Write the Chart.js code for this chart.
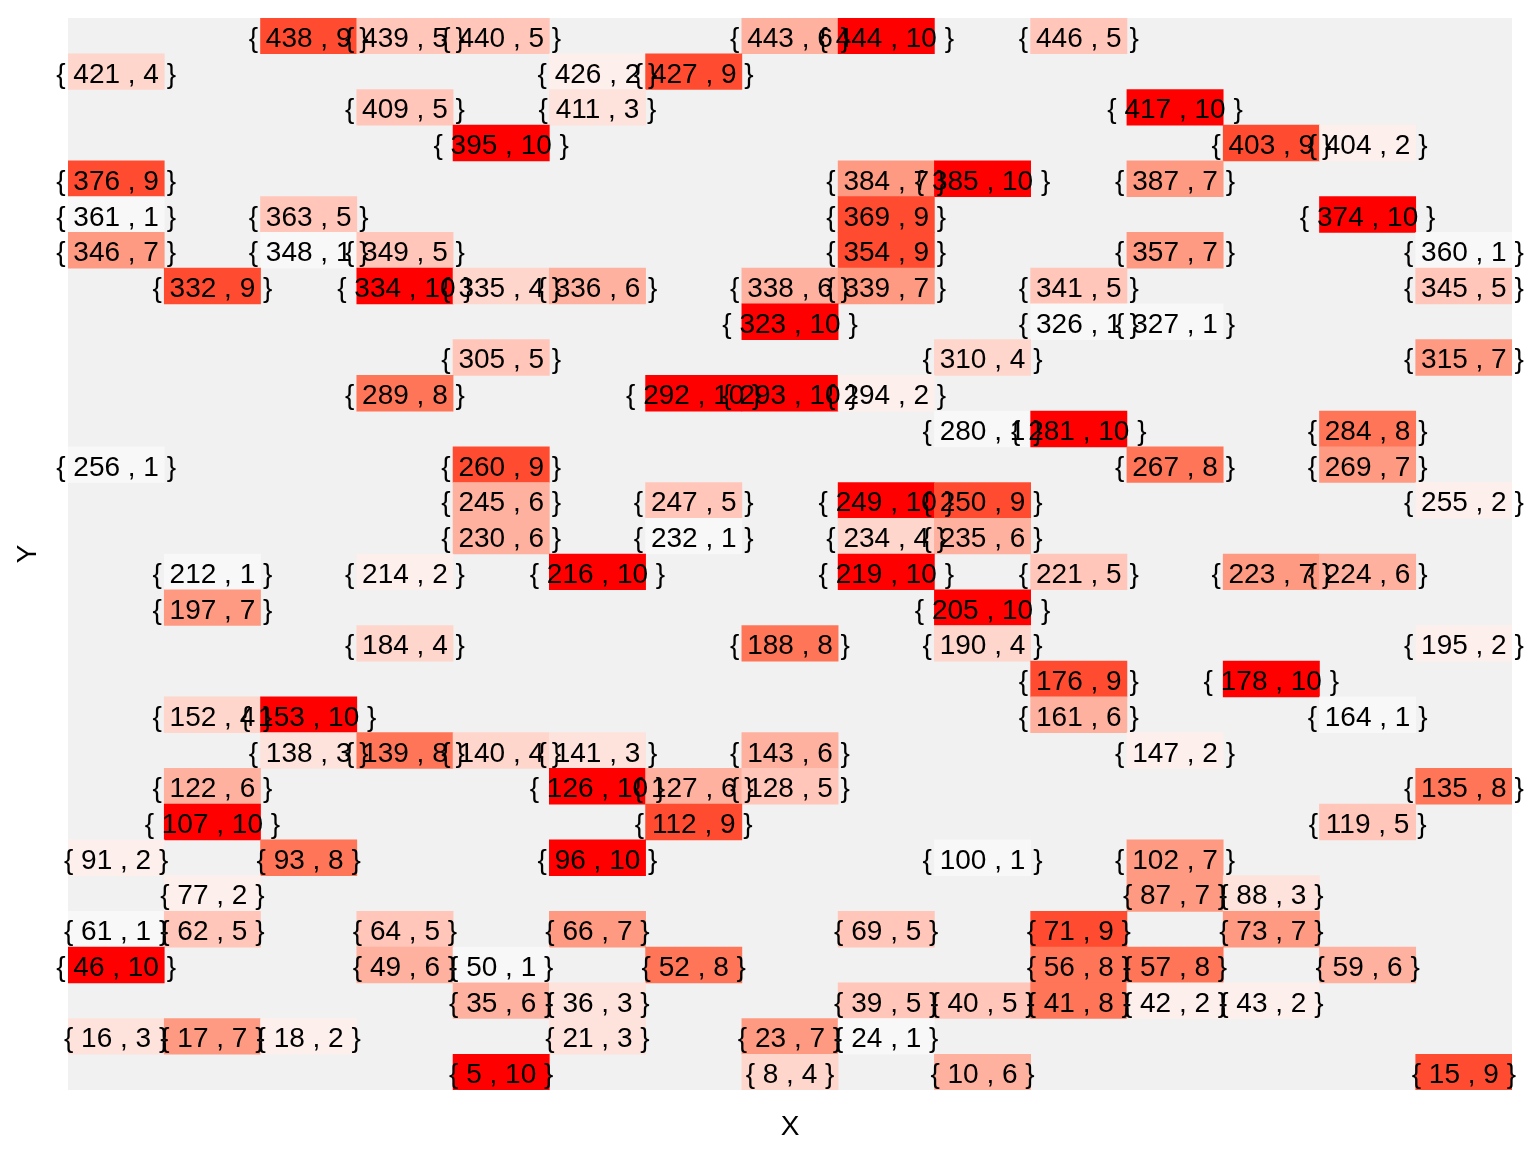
<!DOCTYPE html>
<html><head><meta charset="utf-8">
<script src="https://cdn.jsdelivr.net/npm/chart.js@4/dist/chart.umd.min.js"></script>
<style>html,body{margin:0;padding:0;background:#fff;}#wrap{width:1536px;height:1152px;}</style>
</head><body><div id="wrap"><canvas id="c" width="1536" height="1152"></canvas></div>
<script>
const nCols = 15;
const nRows = 30;
const columnLabels = ['1','2','3','4','5','6','7','8','9','10','11','12','13','14','15'];
const cellIndex = [
  5,8,10,15,
  16,17,18,21,23,24,
  35,36,39,40,41,42,43,
  46,49,50,52,56,57,59,
  61,62,64,66,69,71,73,
  77,87,88,
  91,93,96,100,102,
  107,112,119,
  122,126,127,128,135,
  138,139,140,141,143,147,
  152,153,161,164,
  176,178,
  184,188,190,195,
  197,205,
  212,214,216,219,221,223,224,
  230,232,234,235,
  245,247,249,250,255,
  256,260,267,269,
  280,281,284,
  289,292,293,294,
  305,310,315,
  323,326,327,
  332,334,335,336,338,339,341,345,
  346,348,349,354,357,360,
  361,363,369,374,
  376,384,385,387,
  395,403,404,
  409,411,417,
  421,426,427,
  438,439,440,443,444,446
];
const cellValue = [
  10,4,6,9,
  3,7,2,3,7,1,
  6,3,5,5,8,2,2,
  10,6,1,8,8,8,6,
  1,5,5,7,5,9,7,
  2,7,3,
  2,8,10,1,7,
  10,9,5,
  6,10,6,5,8,
  3,8,4,3,6,2,
  4,10,6,1,
  9,10,
  4,8,4,2,
  7,10,
  1,2,10,10,5,7,6,
  6,1,4,6,
  6,5,10,9,2,
  1,9,8,7,
  1,10,8,
  8,10,10,2,
  5,4,7,
  10,1,1,
  9,10,4,6,6,7,5,5,
  7,1,5,9,7,1,
  1,5,9,10,
  9,7,10,7,
  10,9,2,
  5,3,10,
  4,2,9,
  9,5,5,6,10,5
];

// fill colour for values 1..10 (style palette)
const palette = ['#f8f8f8','#fcefec','#fde3dc','#fed6cc','#ffc6b9','#ffb19f','#fe9a82','#ff7558','#ff4c31','#ff0000'];
function colorFor(v){ return palette[Math.max(0,Math.min(palette.length-1,Math.round(v)-1))]; }

// one dataset per row
const datasets=[];
for(let r=0;r<nRows;r++){
  datasets.push({data:new Array(nCols).fill(null),backgroundColor:new Array(nCols).fill('rgba(0,0,0,0)'),cellLabels:new Array(nCols).fill(null)});
}
cellIndex.forEach((n,i)=>{
  const col=(n-1)%nCols,row=Math.floor((n-1)/nCols);
  const ds=datasets[row];
  ds.data[col]=[row,row+1];
  ds.backgroundColor[col]=colorFor(cellValue[i]);
  ds.cellLabels[col]='{ '+n+' , '+cellValue[i]+' }';
});
datasets.forEach(ds=>{ds.grouped=false;ds.barPercentage=1;ds.categoryPercentage=1;ds.borderWidth=0;});

const FONT="'Liberation Sans', Arial, Helvetica, sans-serif";
const panelBg={id:'panelBg',beforeDatasetsDraw(chart){const {ctx,chartArea:a}=chart;ctx.save();ctx.fillStyle='#f1f1f1';ctx.fillRect(a.left,a.top,a.right-a.left,a.bottom-a.top);ctx.restore();}};
const cellText={id:'cellText',afterDatasetsDraw(chart){
  const ctx=chart.ctx;ctx.save();ctx.font='28px '+FONT;ctx.fillStyle='#000';ctx.textAlign='center';ctx.textBaseline='alphabetic';
  chart.data.datasets.forEach((ds,i)=>{
    const meta=chart.getDatasetMeta(i);
    meta.data.forEach((el,j)=>{if(ds.cellLabels[j]){ctx.fillText(ds.cellLabels[j],el.x,(el.y+el.base)/2+11);}});
  });
  ctx.restore();
}};

new Chart(document.getElementById('c'),{
  type:'bar',
  data:{labels:columnLabels,datasets},
  options:{
    responsive:false,animation:false,events:[],
    layout:{padding:{left:7.2,top:18,right:24,bottom:0}},
    plugins:{legend:{display:false},tooltip:{enabled:false}},
    scales:{
      x:{offset:true,grid:{display:false,drawTicks:false},border:{display:false},ticks:{display:false},
         title:{display:true,text:'X',color:'#000',font:{family:FONT,size:28},padding:{top:20.2,bottom:8.2}}},
      y:{min:0,max:nRows,grid:{display:false,drawTicks:false},border:{display:false},ticks:{display:false},
         title:{display:true,text:'Y',color:'#000',font:{family:FONT,size:28},padding:{top:4,bottom:23.2}}}
    }
  },
  plugins:[panelBg,cellText]
});
</script></body></html>
